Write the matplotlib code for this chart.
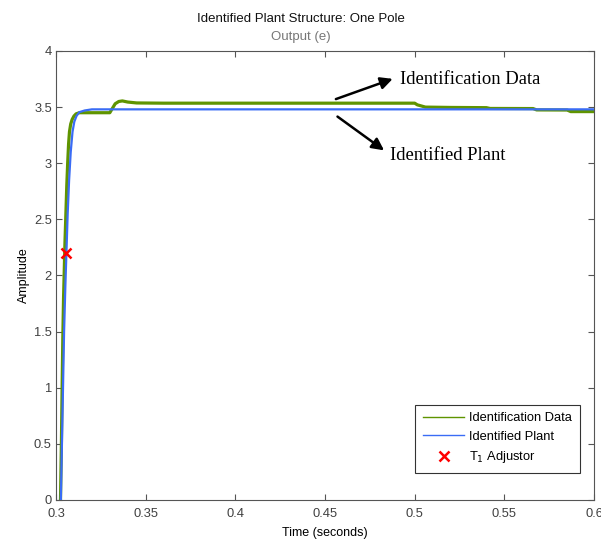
import matplotlib.pyplot as plt

plt.rcParams['font.family'] = ['Liberation Sans', 'DejaVu Sans']

# identification data (measured response)
data_t = [0.3025, 0.3030, 0.3034, 0.3038, 0.3042, 0.3046, 0.3050, 0.3055, 0.3060,
          0.3065, 0.3070, 0.3075, 0.3082, 0.3090, 0.3100, 0.3112, 0.3130, 0.3160,
          0.3200, 0.3300, 0.3315, 0.3330, 0.3350, 0.3370, 0.3400, 0.3450, 0.3600,
          0.4000, 0.4500, 0.5000, 0.5015, 0.5060, 0.5200, 0.5400, 0.5420, 0.5660,
          0.5680, 0.5850, 0.5870, 0.6000]
data_y = [0.0, 0.5, 1.0, 1.45, 1.8, 2.05, 2.3, 2.55, 2.8,
          3.0, 3.17, 3.28, 3.35, 3.39, 3.42, 3.44, 3.45, 3.45,
          3.45, 3.45, 3.49, 3.53, 3.55, 3.555, 3.545, 3.537, 3.535,
          3.535, 3.535, 3.535, 3.52, 3.5, 3.497, 3.495, 3.488, 3.487,
          3.475, 3.474, 3.46, 3.46]

# identified one-pole plant
plant_t = [0.3027, 0.3033, 0.3039, 0.3045, 0.3052, 0.3058, 0.3065, 0.3073, 0.3082,
           0.3092, 0.3102, 0.3114, 0.3130, 0.3160, 0.3200, 0.6000]
plant_y = [0.0, 0.5, 1.0, 1.5, 1.9, 2.2, 2.55, 2.85, 3.1,
           3.28, 3.37, 3.42, 3.455, 3.47, 3.48, 3.48]

# T1 adjustor marker
t1_t = [0.3057]
t1_y = [2.2]

green = '#5f9400'
blue = '#3a6cf5'

fig = plt.figure(figsize=(6.01, 5.40), dpi=100)
ax = fig.add_axes([0.0932, 0.0741, 0.8952, 0.8315])

ax.plot(data_t, data_y, color=green, lw=2.3, label='Identification Data', zorder=2)
ax.plot(plant_t, plant_y, color=blue, lw=1.6, label='Identified Plant', zorder=3)
ax.plot(t1_t, t1_y, 'x', color='red', ms=7, mew=1.8, ls='none',
        label='T$_1$ Adjustor', zorder=4)

ax.set_xlim(0.3, 0.6)
ax.set_ylim(0, 4)
ax.set_xticks([0.3, 0.35, 0.4, 0.45, 0.5, 0.55, 0.6])
ax.set_xticklabels(['0.3', '0.35', '0.4', '0.45', '0.5', '0.55', '0.6'])
ax.set_yticks([0, 0.5, 1, 1.5, 2, 2.5, 3, 3.5, 4])
ax.set_yticklabels(['0', '0.5', '1', '1.5', '2', '2.5', '3', '3.5', '4'])

gray = '#555555'
for s in ax.spines.values():
    s.set_color(gray)
    s.set_linewidth(0.8)
ax.tick_params(direction='in', top=True, right=True, length=4, width=0.8,
               colors=gray, labelsize=9.3, labelcolor='#404040')
ax.tick_params(axis='x', pad=6)
ax.tick_params(axis='y', pad=3)

ax.set_xlabel('Time (seconds)', fontsize=9, labelpad=5)
ax.set_ylabel('Amplitude', fontsize=9, labelpad=3)

fig.text(0.5, 0.965, 'Identified Plant Structure: One Pole', ha='center', va='center',
         fontsize=9.5, color='#111111')
fig.text(0.5, 0.932, 'Output (e)', ha='center', va='center', fontsize=9.5, color='#777777')

# hand-drawn style annotations
ax.annotate('', xy=(0.4892, 3.76), xytext=(0.4546, 3.563),
            arrowprops=dict(arrowstyle='-|>', color='black', lw=1.8, mutation_scale=18))
ax.text(0.492, 3.75, 'Identification Data', family='Liberation Serif', fontsize=13.4,
        va='center', ha='left')
ax.annotate('', xy=(0.4842, 3.10), xytext=(0.4557, 3.43),
            arrowprops=dict(arrowstyle='-|>', color='black', lw=1.8, mutation_scale=18))
ax.text(0.4864, 3.07, 'Identified Plant', family='Liberation Serif', fontsize=13.4,
        va='center', ha='left')

leg = ax.legend(loc='lower right', bbox_to_anchor=(0.974, 0.06), borderaxespad=0,
                fontsize=9.3, frameon=True, fancybox=False, borderpad=0.6,
                handlelength=3.2, handletextpad=0.4, labelspacing=0.5)
leg.get_frame().set_edgecolor('black')
leg.get_frame().set_linewidth(0.8)
leg.get_lines()[0].set_linewidth(1.0)
leg.get_lines()[1].set_linewidth(1.0)

fig.savefig('out.png', dpi=100)
